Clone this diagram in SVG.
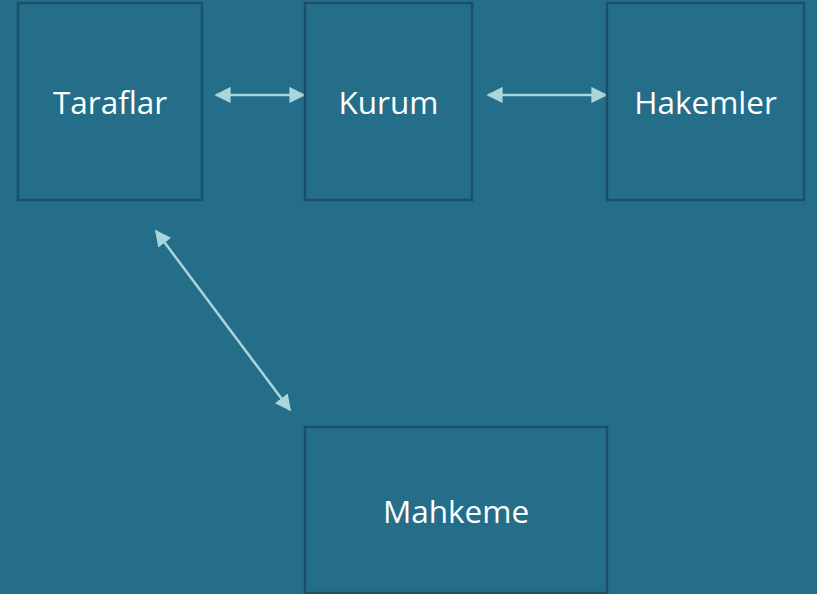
<svg xmlns="http://www.w3.org/2000/svg" width="817" height="594" viewBox="0 0 817 594">
<style>
.box{fill:#246E8A;stroke:#1B5068;stroke-width:2.5}
.lbl{font-family:"Open Sans","Liberation Sans",sans-serif;font-size:31.5px;fill:#FFFFFF;text-anchor:middle}
.con{stroke:#A9D5DC;stroke-width:2.5;fill:none;marker-start:url(#ah);marker-end:url(#ah)}
</style>
<defs>
<marker id="ah" viewBox="0 0 10 10" refX="9" refY="5" markerWidth="6.5" markerHeight="6.5" markerUnits="strokeWidth" orient="auto-start-reverse">
<path d="M0,0 L10,5 L0,10 Z" fill="#A9D5DC"/>
</marker>
</defs>
<rect width="817" height="594" fill="#246E8A"/>
<g id="connectors">
<line class="con" x1="216" y1="95" x2="304" y2="95"/>
<line class="con" x1="488" y1="95" x2="606" y2="95"/>
<line class="con" x1="156" y1="231" x2="290" y2="410"/>
</g>
<g id="taraflar"><rect class="box" x="18" y="3" width="184" height="197"/><text class="lbl" x="110" y="114">Taraflar</text></g>
<g id="kurum"><rect class="box" x="305" y="3" width="167" height="197"/><text class="lbl" x="388.5" y="114">Kurum</text></g>
<g id="hakemler"><rect class="box" x="607" y="3" width="197" height="197"/><text class="lbl" x="705.5" y="114">Hakemler</text></g>
<g id="mahkeme"><rect class="box" x="305" y="427" width="302" height="166"/><text class="lbl" x="456" y="523">Mahkeme</text></g>
</svg>
